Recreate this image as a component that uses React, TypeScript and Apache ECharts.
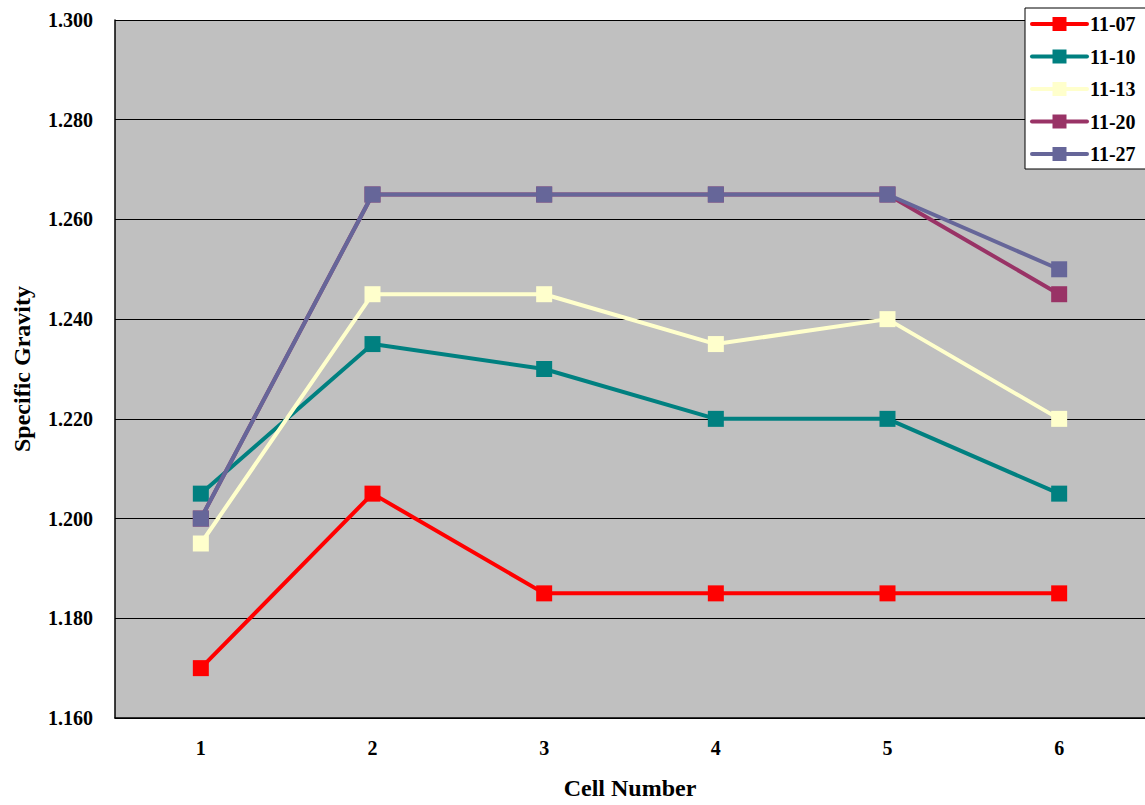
import React, { useEffect, useRef } from "react";
import * as echarts from "echarts";

const categories = ["1", "2", "3", "4", "5", "6"];
const seriesNames = ["11-07", "11-10", "11-13", "11-20", "11-27"];
const s1107 = [1.17, 1.205, 1.185, 1.185, 1.185, 1.185];
const s1110 = [1.205, 1.235, 1.23, 1.22, 1.22, 1.205];
const s1113 = [1.195, 1.245, 1.245, 1.235, 1.24, 1.22];
const s1120 = [1.2, 1.265, 1.265, 1.265, 1.265, 1.245];
const s1127 = [1.2, 1.265, 1.265, 1.265, 1.265, 1.25];
const colors = ["#FF0000", "#008080", "#FFFFCC", "#993366", "#666699"];

const FONT = "Times New Roman, Liberation Serif, DejaVu Serif, serif";

export default function App() {
  const ref = useRef<HTMLDivElement>(null);
  useEffect(() => {
    if (!ref.current) return;
    const chart = echarts.init(ref.current, null, { renderer: "svg" });
    const data = [s1107, s1110, s1113, s1120, s1127];
    chart.setOption({
      animation: false,
      backgroundColor: "#ffffff",
      textStyle: { fontFamily: FONT },
      grid: {
        left: 115,
        top: 20,
        right: -2,
        bottom: 82,
        show: true,
        backgroundColor: "#C0C0C0",
        borderWidth: 0,
      },
      legend: {
        orient: "vertical",
        left: 1025,
        top: 8,
        padding: [6, 20, 5, 5],
        itemWidth: 55,
        itemHeight: 17.5,
        itemGap: 12.5,
        backgroundColor: "#ffffff",
        borderColor: "#000000",
        borderWidth: 1,
        borderRadius: 0,
        lineStyle: { width: 4, cap: "round" },
        textStyle: {
          fontFamily: FONT,
          fontWeight: "bold",
          fontSize: 20,
          color: "#000000",
          padding: [0, 0, 0, -2],
        },
        data: seriesNames,
      },
      xAxis: {
        type: "category",
        data: categories,
        boundaryGap: true,
        name: "Cell Number",
        nameLocation: "middle",
        nameGap: 58,
        nameTextStyle: { fontFamily: FONT, fontWeight: "bold", fontSize: 24, color: "#000" },
        axisLine: { lineStyle: { color: "#000", width: 1.5 } },
        axisTick: { inside: true, length: 6, lineStyle: { color: "#000" } },
        axisLabel: { fontFamily: FONT, fontWeight: "bold", fontSize: 20, color: "#000", margin: 20 },
        splitLine: { show: false },
      },
      yAxis: {
        type: "value",
        min: 1.16,
        max: 1.3,
        interval: 0.02,
        name: "Specific Gravity",
        nameLocation: "middle",
        nameGap: 81,
        nameTextStyle: { fontFamily: FONT, fontWeight: "bold", fontSize: 24, color: "#000" },
        axisLine: { show: true, lineStyle: { color: "#000", width: 1.5 } },
        axisTick: { show: true, inside: true, length: 6, lineStyle: { color: "#000" } },
        axisLabel: {
          fontFamily: FONT,
          fontWeight: "bold",
          fontSize: 20,
          color: "#000",
          margin: 22,
          formatter: (v: number) => v.toFixed(3),
        },
        splitLine: { show: true, lineStyle: { color: "#000", width: 1 } },
      },
      series: seriesNames.map((name, i) => ({
        name,
        type: "line",
        data: data[i],
        symbol: "rect",
        symbolSize: 16,
        color: colors[i],
        lineStyle: { color: colors[i], width: 4 },
        itemStyle: { color: colors[i] },
        z: 2 + i,
      })),
    });
    return () => chart.dispose();
  }, []);
  return (
    <div
      ref={ref}
      style={{ position: "fixed", left: 0, top: 0, width: 1145, height: 805 }}
    />
  );
}
